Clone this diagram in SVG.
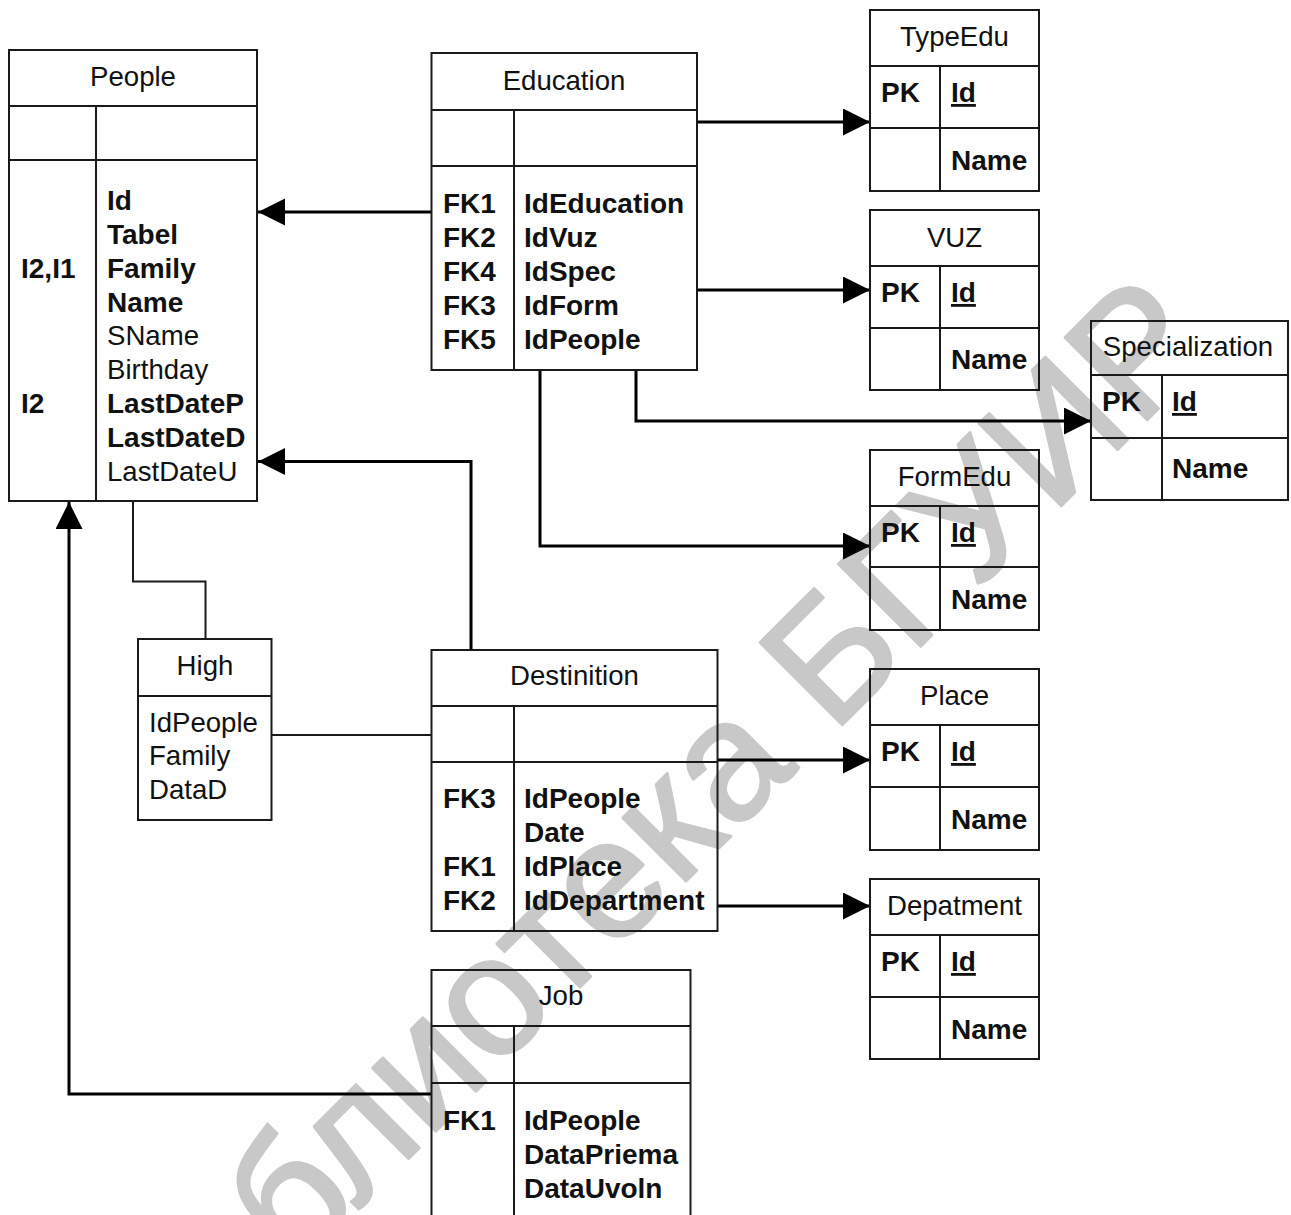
<svg xmlns="http://www.w3.org/2000/svg" width="1291" height="1215" viewBox="0 0 1291 1215">
<style>
.box{fill:none;stroke:#1a1a1a;stroke-width:2}
.ln{stroke:#1a1a1a;stroke-width:2;fill:none}
.t{font-family:"Liberation Sans",Arial,sans-serif;font-size:27.6px;fill:#111}
.b{font-weight:bold;font-size:28px}
.c{text-anchor:middle}
.u{text-decoration:underline}
.conn{fill:none;stroke:#000;stroke-width:3}
.thin{fill:none;stroke:#1a1a1a;stroke-width:2}
.wm{font-family:"Liberation Sans",Arial,sans-serif;font-size:169px;fill:#c8c8c8;stroke:#c8c8c8;stroke-width:3;stroke-linejoin:round}
</style>
<defs>
<marker id="arr" markerUnits="userSpaceOnUse" markerWidth="28" markerHeight="28" refX="27" refY="13.5" orient="auto">
<path d="M0,0 L27,13.5 L0,27 z" fill="#000"/>
</marker>
</defs>
<rect width="1291" height="1215" fill="#fff"/>
<g id="watermark" transform="translate(832.5,734.5) rotate(-45)">
<text class="wm" x="-47" y="0" text-anchor="end">Библиотека</text>
<text class="wm" x="0" y="0">БГУИР</text>
</g>

<g id="connectors">
<polyline class="conn" points="431.5,212 258,212" marker-end="url(#arr)"/>
<polyline class="conn" points="697,122 870,122" marker-end="url(#arr)"/>
<polyline class="conn" points="697,290 870,290" marker-end="url(#arr)"/>
<polyline class="conn" points="636,370 636,421 1091,421" marker-end="url(#arr)"/>
<polyline class="conn" points="540,370 540,546 870,546" marker-end="url(#arr)"/>
<polyline class="conn" points="471,650 471,461.5 258,461.5" marker-end="url(#arr)"/>
<polyline class="conn" points="717.5,760 870,760" marker-end="url(#arr)"/>
<polyline class="conn" points="717.5,906 870,906" marker-end="url(#arr)"/>
<polyline class="conn" points="431.5,1094 69,1094 69,502" marker-end="url(#arr)"/>
<polyline class="thin" points="133,501 133,581.5 205.5,581.5 205.5,639"/>
<polyline class="thin" points="271.5,735 431.5,735"/>
</g>

<g id="people">
<rect class="box" x="9" y="50" width="248" height="451"/>
<line class="ln" x1="9" y1="106" x2="257" y2="106"/>
<line class="ln" x1="9" y1="160" x2="257" y2="160"/>
<line class="ln" x1="96" y1="106" x2="96" y2="501"/>
<text class="t c" x="133" y="86">People</text>
<text class="t b" x="21" y="278">I2,I1</text>
<text class="t b" x="21" y="413">I2</text>
<text class="t b" x="107" y="210">Id</text>
<text class="t b" x="107" y="244">Tabel</text>
<text class="t b" x="107" y="278">Family</text>
<text class="t b" x="107" y="312">Name</text>
<text class="t" x="107" y="345">SName</text>
<text class="t" x="107" y="379">Birthday</text>
<text class="t b" x="107" y="413">LastDateP</text>
<text class="t b" x="107" y="447">LastDateD</text>
<text class="t" x="107" y="481">LastDateU</text>
</g>

<g id="education">
<rect class="box" x="431.5" y="53" width="265.5" height="317"/>
<line class="ln" x1="431.5" y1="110" x2="697" y2="110"/>
<line class="ln" x1="431.5" y1="166" x2="697" y2="166"/>
<line class="ln" x1="514" y1="110" x2="514" y2="370"/>
<text class="t c" x="564" y="90">Education</text>
<text class="t b" x="443" y="213">FK1</text>
<text class="t b" x="443" y="247">FK2</text>
<text class="t b" x="443" y="281">FK4</text>
<text class="t b" x="443" y="315">FK3</text>
<text class="t b" x="443" y="349">FK5</text>
<text class="t b" x="524" y="213">IdEducation</text>
<text class="t b" x="524" y="247">IdVuz</text>
<text class="t b" x="524" y="281">IdSpec</text>
<text class="t b" x="524" y="315">IdForm</text>
<text class="t b" x="524" y="349">IdPeople</text>
</g>

<g id="high">
<rect class="box" x="138" y="639" width="133.5" height="181"/>
<line class="ln" x1="138" y1="696" x2="271.5" y2="696"/>
<text class="t c" x="205" y="675">High</text>
<text class="t" x="149" y="731.5">IdPeople</text>
<text class="t" x="149" y="765">Family</text>
<text class="t" x="149" y="798.5">DataD</text>
</g>

<g id="destinition">
<rect class="box" x="431.5" y="650" width="286" height="281"/>
<line class="ln" x1="431.5" y1="706" x2="717.5" y2="706"/>
<line class="ln" x1="431.5" y1="762" x2="717.5" y2="762"/>
<line class="ln" x1="514" y1="706" x2="514" y2="931"/>
<text class="t c" x="574.5" y="685">Destinition</text>
<text class="t b" x="443" y="808">FK3</text>
<text class="t b" x="443" y="876">FK1</text>
<text class="t b" x="443" y="910">FK2</text>
<text class="t b" x="524" y="808">IdPeople</text>
<text class="t b" x="524" y="842">Date</text>
<text class="t b" x="524" y="876">IdPlace</text>
<text class="t b" x="524" y="910">IdDepartment</text>
</g>

<g id="job">
<rect class="box" x="431.5" y="970" width="259" height="270"/>
<line class="ln" x1="431.5" y1="1026" x2="690.5" y2="1026"/>
<line class="ln" x1="431.5" y1="1083" x2="690.5" y2="1083"/>
<line class="ln" x1="514" y1="1026" x2="514" y2="1240"/>
<text class="t c" x="561" y="1005">Job</text>
<text class="t b" x="443" y="1130">FK1</text>
<text class="t b" x="524" y="1130">IdPeople</text>
<text class="t b" x="524" y="1164">DataPriema</text>
<text class="t b" x="524" y="1198">DataUvoln</text>
</g>

<g id="typeedu">
<rect class="box" x="870" y="10" width="169" height="181"/>
<line class="ln" x1="870" y1="66" x2="1039" y2="66"/>
<line class="ln" x1="870" y1="128" x2="1039" y2="128"/>
<line class="ln" x1="940" y1="66" x2="940" y2="191"/>
<text class="t c" x="954.5" y="46">TypeEdu</text>
<text class="t b" x="881" y="102">PK</text>
<text class="t b u" x="951" y="102">Id</text>
<text class="t b" x="951" y="170">Name</text>
</g>

<g id="vuz">
<rect class="box" x="870" y="210" width="169" height="180"/>
<line class="ln" x1="870" y1="266" x2="1039" y2="266"/>
<line class="ln" x1="870" y1="328" x2="1039" y2="328"/>
<line class="ln" x1="940" y1="266" x2="940" y2="390"/>
<text class="t c" x="954.5" y="247">VUZ</text>
<text class="t b" x="881" y="302">PK</text>
<text class="t b u" x="951" y="302">Id</text>
<text class="t b" x="951" y="369">Name</text>
</g>

<g id="specialization">
<rect class="box" x="1091" y="321" width="197" height="179"/>
<line class="ln" x1="1091" y1="375" x2="1288" y2="375"/>
<line class="ln" x1="1091" y1="438" x2="1288" y2="438"/>
<line class="ln" x1="1162" y1="375" x2="1162" y2="500"/>
<text class="t c" x="1188" y="356">Specialization</text>
<text class="t b" x="1102" y="411">PK</text>
<text class="t b u" x="1172" y="411">Id</text>
<text class="t b" x="1172" y="478">Name</text>
</g>

<g id="formedu">
<rect class="box" x="870" y="450" width="169" height="180"/>
<line class="ln" x1="870" y1="506" x2="1039" y2="506"/>
<line class="ln" x1="870" y1="567" x2="1039" y2="567"/>
<line class="ln" x1="940" y1="506" x2="940" y2="630"/>
<text class="t c" x="954.5" y="486">FormEdu</text>
<text class="t b" x="881" y="542">PK</text>
<text class="t b u" x="951" y="542">Id</text>
<text class="t b" x="951" y="609">Name</text>
</g>

<g id="place">
<rect class="box" x="870" y="669" width="169" height="181"/>
<line class="ln" x1="870" y1="725" x2="1039" y2="725"/>
<line class="ln" x1="870" y1="787" x2="1039" y2="787"/>
<line class="ln" x1="940" y1="725" x2="940" y2="850"/>
<text class="t c" x="954.5" y="705">Place</text>
<text class="t b" x="881" y="761">PK</text>
<text class="t b u" x="951" y="761">Id</text>
<text class="t b" x="951" y="829">Name</text>
</g>

<g id="depatment">
<rect class="box" x="870" y="879" width="169" height="180"/>
<line class="ln" x1="870" y1="935" x2="1039" y2="935"/>
<line class="ln" x1="870" y1="997" x2="1039" y2="997"/>
<line class="ln" x1="940" y1="935" x2="940" y2="1059"/>
<text class="t c" x="954.5" y="915">Depatment</text>
<text class="t b" x="881" y="971">PK</text>
<text class="t b u" x="951" y="971">Id</text>
<text class="t b" x="951" y="1039">Name</text>
</g>
</svg>
